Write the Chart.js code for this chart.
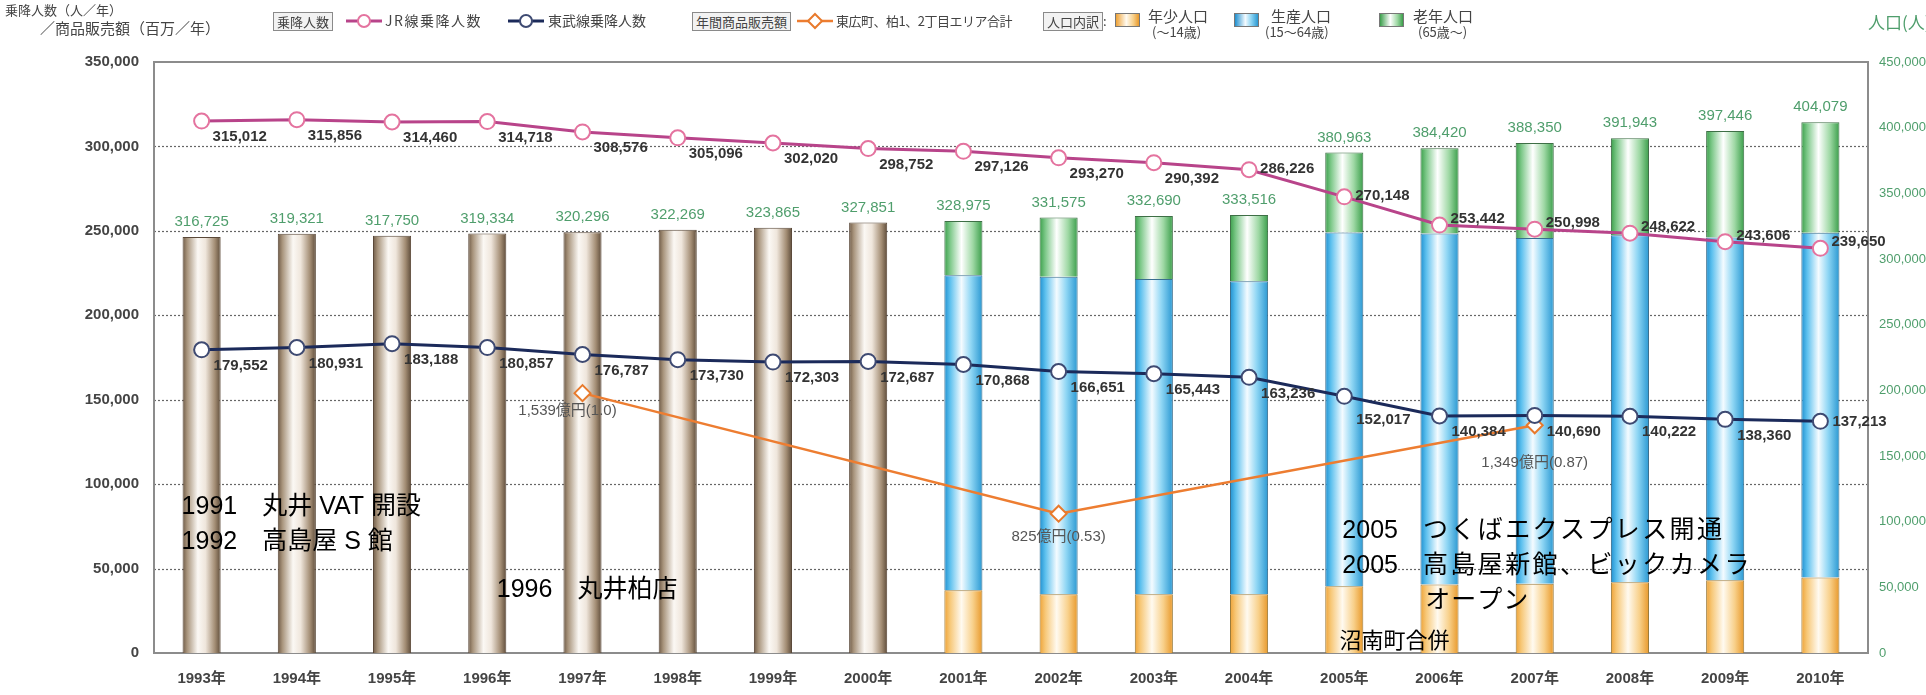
<!DOCTYPE html>
<html lang="ja">
<head>
<meta charset="utf-8">
<script src="https://cdn.jsdelivr.net/npm/chart.js@4.4.0/dist/chart.umd.min.js"></script>
<style>
  html, body { margin: 0; padding: 0; background: #fff; }
  #wrap { position: relative; width: 1926px; height: 695px; overflow: hidden; font-family: 'Noto Sans CJK JP', sans-serif; }
  #chart { position: absolute; left: 0; top: 0; }
  .t { position: absolute; white-space: nowrap; color: #444; font-size: 13px; line-height: 1; }
  .box { border: 1px solid #8a8a8a; background: #f2f2f2; padding: 2px 3px; }
  .sw { position: absolute; width: 25px; height: 14px; border: 1px solid #777; box-sizing: border-box; }
  svg { position: absolute; }
</style>
</head>
<body>
<div id="wrap">
  <canvas id="chart" width="1926" height="695"></canvas>

  <div class="t" style="left:5px;top:3px;font-size:13px">乗降人数（人／年）</div>
  <div class="t" style="left:40px;top:20px;font-size:15px">／商品販売額（百万／年）</div>

  <div class="t box" style="left:273px;top:12px">乗降人数</div>
  <div class="t" style="left:325px;top:14px">:</div>
  <svg style="left:346px;top:13px" width="36" height="16"><line x1="0" y1="8" x2="36" y2="8" stroke="#b8448a" stroke-width="3"/><circle cx="18" cy="8" r="6" fill="#fff" stroke="#e4739f" stroke-width="2"/></svg>
  <div class="t" style="left:385px;top:13px;font-size:14px;letter-spacing:1.5px">JR線乗降人数</div>
  <svg style="left:508px;top:13px" width="36" height="16"><line x1="0" y1="8" x2="36" y2="8" stroke="#1b2a5a" stroke-width="3"/><circle cx="18" cy="8" r="6" fill="#fff" stroke="#3e4a72" stroke-width="2"/></svg>
  <div class="t" style="left:548px;top:13px;font-size:14px">東武線乗降人数</div>

  <div class="t box" style="left:692px;top:12px">年間商品販売額</div>
  <svg style="left:797px;top:12px" width="36" height="18"><line x1="0" y1="9" x2="36" y2="9" stroke="#ed7d31" stroke-width="2.5"/><path d="M18 2 L25 9 L18 16 L11 9 Z" fill="#fff" stroke="#e87a2c" stroke-width="2"/></svg>
  <div class="t" style="left:836px;top:14px;letter-spacing:-0.5px">東広町、柏1、2丁目エリア合計</div>

  <div class="t box" style="left:1043px;top:12px">人口内訳</div>
  <div class="t" style="left:1103px;top:14px">:</div>
  <div class="sw" style="left:1115px;top:13px;background:linear-gradient(90deg,#eea236,#fffaf0 45%,#f8d08a 75%,#e8982a)"></div>
  <div class="t" style="left:1148px;top:8px;font-size:15px">年少人口</div>
  <div class="t" style="left:1152px;top:25px;font-size:13px">(〜14歳)</div>
  <div class="sw" style="left:1234px;top:13px;background:linear-gradient(90deg,#1f8fcf,#f4fbff 45%,#8fd6f4 70%,#2a98d2)"></div>
  <div class="t" style="left:1271px;top:8px;font-size:15px">生産人口</div>
  <div class="t" style="left:1265px;top:25px;font-size:13px">(15〜64歳)</div>
  <div class="sw" style="left:1379px;top:13px;background:linear-gradient(90deg,#3a9e4a,#ffffff 45%,#9ed8a4 75%,#3a9e4a)"></div>
  <div class="t" style="left:1413px;top:8px;font-size:15px">老年人口</div>
  <div class="t" style="left:1418px;top:25px;font-size:13px">(65歳〜)</div>

  <div class="t" style="left:1868px;top:13px;font-size:17px;color:#4f9e6c">人口(人)</div>
</div>

<script>
const years = ['1993年', '1994年', '1995年', '1996年', '1997年', '1998年', '1999年', '2000年', '2001年',
    '2002年', '2003年', '2004年', '2005年', '2006年', '2007年', '2008年', '2009年', '2010年']

// riders per year (left axis)
const jrRiders = [315012, 315856, 314460, 314718, 308576, 305096, 302020, 298752, 297126,
    293270, 290392, 286226, 270148, 253442, 250998, 248622, 243606, 239650]
const tobuRiders = [179552, 180931, 183188, 180857, 176787, 173730, 172303, 172687, 170868,
    166651, 165443, 163236, 152017, 140384, 140690, 140222, 138360, 137213]

// annual retail sales, million yen (left axis)
const salesAmount = [null, null, null, null, 153900, null, null, null, null,
    82500, null, null, null, null, 134900, null, null, null]
const salesLabels = [null, null, null, null, '1,539億円(1.0)', null, null, null, null,
    '825億円(0.53)', null, null, null, null, '1,349億円(0.87)', null, null, null]

// population (right axis)
const popTotal = [316725, 319321, 317750, 319334, 320296, 322269, 323865, 327851, 328975,
    331575, 332690, 333516, 380963, 384420, 388350, 391943, 397446, 404079]
const popYoung = [null, null, null, null, null, null, null, null, 47800,
    44700, 44700, 44700, 50800, 52100, 52800, 53800, 55400, 57500]
const popWorking = [null, null, null, null, null, null, null, null, 239800,
    241800, 240000, 238400, 269300, 267300, 263100, 264200, 260900, 262500]
const popElderly = [null, null, null, null, null, null, null, null, 41400,
    45100, 48000, 50400, 60900, 65000, 72400, 73900, 81100, 84100]

// notes: x in category units, y in left axis units
const notes = [
    { year: '1991', text: '丸井 VAT 開設', x: -0.21, y: 86500, size: 25, gap: 0 },
    { year: '1992', text: '高島屋 S 館', x: -0.21, y: 65700, size: 25, gap: 0 },
    { year: '1996', text: '丸井柏店', x: 3.1, y: 37300, size: 25, gap: 0 },
    { year: '2005', text: 'つくばエクスプレス開通', x: 11.98, y: 72300, size: 25, gap: 2.4 },
    { year: '2005', text: '高島屋新館、ビックカメラ', x: 11.98, y: 51500, size: 25, gap: 2.4 },
    { year: '', text: 'オープン', x: 12.85, y: 30800, size: 25, gap: 1 },
    { year: '', text: '沼南町合併', x: 11.95, y: 6500, size: 22, gap: 0 },
]

const jrLine = '#b8448a'
const jrPoint = '#e4739f'
const tobuLine = '#1b2a5a'
const tobuPoint = '#3e4a72'
const salesColor = '#ed7d31'
const popGreen = '#4f9e6c'

const brownStops = [[0, '#6e5a46'], [0.12, '#a8947c'], [0.4, '#fbf8f4'], [0.6, '#efe6dc'], [0.85, '#a38d74'], [1, '#5e4c3a']]
const youngStops = [[0, '#eea236'], [0.15, '#f7c878'], [0.45, '#fffaf0'], [0.75, '#f8d08a'], [1, '#e8982a']]
const workStops = [[0, '#1f8fcf'], [0.15, '#5cc0ee'], [0.45, '#f4fbff'], [0.7, '#8fd6f4'], [1, '#2a98d2']]
const oldStops = [[0, '#3a9e4a'], [0.15, '#7cc888'], [0.45, '#ffffff'], [0.75, '#9ed8a4'], [1, '#3a9e4a']]

const fmt = (v) => v.toLocaleString('en-US')
const numFont = '"Liberation Sans", "Noto Sans CJK JP", sans-serif'

function barFill(stops) {
    return (c) => {
        const chart = c.chart
        const xs = chart.scales.x
        if (!chart.chartArea || !xs || c.dataIndex === undefined) return stops[2][1]
        const cx = xs.getPixelForValue(c.dataIndex)
        const half = (xs.width / years.length) * 0.4 / 2
        const g = chart.ctx.createLinearGradient(cx - half, 0, cx + half, 0)
        stops.forEach(([o, col]) => g.addColorStop(o, col))
        return g
    }
}

const frame = {
    id: 'frame',
    beforeDatasetsDraw(chart) {
        const { ctx, chartArea: a, scales: { y } } = chart
        ctx.save()
        ctx.strokeStyle = '#666'
        ctx.lineWidth = 1.2
        ctx.setLineDash([2, 2])
        y.ticks.forEach((t) => {
            if (t.value <= 0 || t.value >= 350000) return
            const py = Math.round(y.getPixelForValue(t.value)) + 0.5
            ctx.beginPath()
            ctx.moveTo(a.left, py)
            ctx.lineTo(a.right, py)
            ctx.stroke()
        })
        ctx.setLineDash([])
        ctx.strokeStyle = '#8c8c8c'
        ctx.lineWidth = 2
        ctx.strokeRect(a.left, a.top, a.right - a.left, a.bottom - a.top)
        ctx.restore()
    },
}

const valueLabels = {
    id: 'valueLabels',
    afterDatasetsDraw(chart) {
        const { ctx, scales: { x, y, y1 } } = chart
        ctx.save()
        ctx.textBaseline = 'middle'

        ctx.font = '15px ' + numFont
        ctx.fillStyle = popGreen
        ctx.textAlign = 'center'
        popTotal.forEach((v, i) => ctx.fillText(fmt(v), x.getPixelForValue(i), y1.getPixelForValue(v) - 15))

        ctx.font = 'bold 15px ' + numFont
        ctx.fillStyle = '#333'
        ctx.textAlign = 'left'
        chart.getDatasetMeta(0).data.forEach((p, i) => {
            const dy = i <= 10 ? 16 : (i <= 12 ? -1 : -6)
            ctx.fillText(fmt(jrRiders[i]), p.x + 11, p.y + dy)
        })
        chart.getDatasetMeta(1).data.forEach((p, i) => {
            const dy = i === 17 ? 1 : (i === 12 ? 24 : 16)
            ctx.fillText(fmt(tobuRiders[i]), p.x + 12, p.y + dy)
        })

        ctx.font = '15px ' + numFont
        ctx.fillStyle = '#555'
        ctx.textAlign = 'center'
        chart.getDatasetMeta(2).data.forEach((p, i) => {
            if (!salesLabels[i]) return
            const dx = i === 4 ? -15 : 0
            const dy = i === 14 ? 38 : (i === 9 ? 23 : 18)
            ctx.fillText(salesLabels[i], p.x + dx, p.y + dy)
        })

        ctx.fillStyle = '#000'
        ctx.textAlign = 'left'
        notes.forEach((n) => {
            ctx.font = n.size + 'px ' + numFont
            const px = x.getPixelForValue(n.x)
            const py = y.getPixelForValue(n.y)
            let off = 0
            if (n.year) {
                ctx.letterSpacing = '0px'
                ctx.fillText(n.year, px, py)
                off = ctx.measureText(n.year + '　').width
            }
            ctx.letterSpacing = n.gap + 'px'
            ctx.fillText(n.text, px + off, py)
        })
        ctx.restore()
    },
}

const barBase = {
    type: 'bar',
    yAxisID: 'y1',
    stack: 'pop',
    barPercentage: 0.4,
    categoryPercentage: 1,
    borderWidth: 1,
    order: 2,
}

new Chart(document.getElementById('chart'), {
    type: 'bar',
    data: {
        labels: years,
        datasets: [
            {
                type: 'line', label: 'JR線乗降人数', data: jrRiders, yAxisID: 'y', order: 0,
                borderColor: jrLine, borderWidth: 3, pointRadius: 7.5, pointBorderWidth: 2,
                pointBackgroundColor: '#fff', pointBorderColor: jrPoint,
            },
            {
                type: 'line', label: '東武線乗降人数', data: tobuRiders, yAxisID: 'y', order: 0,
                borderColor: tobuLine, borderWidth: 3, pointRadius: 7.5, pointBorderWidth: 2,
                pointBackgroundColor: '#fff', pointBorderColor: tobuPoint,
            },
            {
                type: 'line', label: '東広町、柏1、2丁目エリア合計', data: salesAmount, yAxisID: 'y', order: 0,
                spanGaps: true, borderColor: salesColor, borderWidth: 2.5, pointStyle: 'rectRot',
                pointRadius: 8, pointBorderWidth: 2, pointBackgroundColor: '#fff', pointBorderColor: '#e87a2c',
            },
            {
                ...barBase, label: '人口', data: popTotal.map((v, i) => (popYoung[i] === null ? v : null)),
                backgroundColor: barFill(brownStops), borderColor: '#5a4838',
            },
            { ...barBase, label: '年少人口', data: popYoung, backgroundColor: barFill(youngStops), borderColor: '#9a7a3a' },
            { ...barBase, label: '生産人口', data: popWorking, backgroundColor: barFill(workStops), borderColor: '#3a6f8f' },
            { ...barBase, label: '老年人口', data: popElderly, backgroundColor: barFill(oldStops), borderColor: '#3e6f46' },
        ],
    },
    options: {
        responsive: false,
        animation: false,
        devicePixelRatio: 1,
        layout: { padding: { top: 62, left: 0, right: 0, bottom: 0 } },
        plugins: { legend: { display: false }, tooltip: { enabled: false } },
        scales: {
            x: {
                stacked: true,
                grid: { display: false, drawTicks: false },
                border: { display: false },
                ticks: { color: '#444', padding: 17, font: { family: numFont, size: 15, weight: 'bold' } },
                afterFit: (s) => { s.height = 42 },
            },
            y: {
                position: 'left',
                min: 0,
                max: 350000,
                grid: { display: false, drawTicks: false },
                border: { display: false },
                ticks: { stepSize: 50000, padding: 15, color: '#444', callback: (v) => fmt(v), font: { family: numFont, size: 15, weight: 'bold' } },
                afterFit: (s) => { s.width = 154 },
            },
            y1: {
                position: 'right',
                stacked: true,
                min: 0,
                max: 450000,
                grid: { display: false, drawTicks: false },
                border: { display: false },
                ticks: { stepSize: 50000, padding: 11, color: popGreen, callback: (v) => fmt(v), font: { family: numFont, size: 13 } },
                afterFit: (s) => { s.width = 58 },
            },
        },
    },
    plugins: [frame, valueLabels],
})
</script>
</body>
</html>
